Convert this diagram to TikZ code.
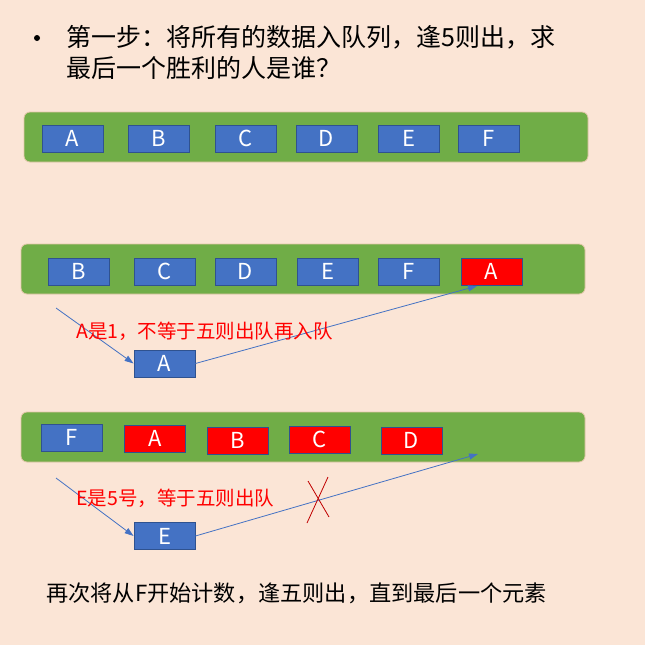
\documentclass[tikz,border=0pt]{standalone}
\usepackage{fontspec}
\setmainfont{Noto Sans CJK SC}
\usetikzlibrary{arrows.meta}
\definecolor{bgc}{HTML}{FBE5D6}
\definecolor{grn}{HTML}{70AD47}
\definecolor{grnb}{HTML}{E2C6A8}
\definecolor{blu}{HTML}{4472C4}
\definecolor{blub}{HTML}{2F528F}
\definecolor{xred}{HTML}{C00000}
\begin{document}
\begin{tikzpicture}[x=1pt,y=-1pt,
  bar/.style={fill=grn,draw=grnb,line width=0.8pt,rounded corners=6pt},
  qbox/.style={fill=blu,draw=blub,line width=0.8pt,minimum width=61pt,minimum height=27pt,inner sep=0pt,text=white,font=\fontsize{22}{22}\selectfont},
  rbox/.style={qbox,fill=red},
  arr/.style={draw=blu,line width=0.8pt,-{Triangle[length=9pt,width=6pt]}},
  lbl/.style={text=red,font=\fontsize{19.5}{20}\selectfont,inner sep=0pt,anchor=west},
  ttl/.style={font=\fontsize{25}{26}\selectfont,inner sep=0pt,anchor=west}]
\fill[bgc] (0,0) rectangle (645,645);
\useasboundingbox (0,0) rectangle (645,645);
% title
\fill (37,38) circle (3pt);
\node[ttl] (t1) at (66,37) {第一步：将所有的数据入队列，逢5则出，求};
\node[ttl] (t2) at (66,68) {最后一个胜利的人是谁？};
% row 1
\draw[bar] (24,112) rectangle (588,162);
\node[qbox] (a1) at (72.5,138.5) {A};
\node[qbox] (b1) at (158.5,138.5) {B};
\node[qbox] (c1) at (245.5,138.5) {C};
\node[qbox] (d1) at (326.5,138.5) {D};
\node[qbox] (e1) at (408.5,138.5) {E};
\node[qbox] (f1) at (488.5,138.5) {F};
% row 2
\draw[bar] (21,244) rectangle (585,294);
\node[qbox] (b2) at (78.5,271.5) {B};
\node[qbox] (c2) at (164.5,271.5) {C};
\node[qbox] (d2) at (245.5,271.5) {D};
\node[qbox] (e2) at (327.5,271.5) {E};
\node[qbox] (f2) at (408.5,271.5) {F};
\node[rbox] (a2) at (491.5,271.5) {A};
\node[qbox] (am) at (164.5,363.5) {A};
\coordinate (s1) at (56,308);
\coordinate (e1p) at (477,286);
\draw[arr] (s1) -- (am.west);
\draw[arr] (am.east) -- (e1p);
\node[lbl] (l1) at (76,331) {A是1，不等于五则出队再入队};
% row 3
\draw[bar] (21,412) rectangle (585,462);
\node[qbox] (f3) at (71.5,437.5) {F};
\node[rbox] (a3) at (155,438.5) {A};
\node[rbox] (b3) at (237.5,440.5) {B};
\node[rbox] (c3) at (320,439.5) {C};
\node[rbox] (d3) at (411.5,440.5) {D};
\node[qbox] (em) at (164.5,536) {E};
\coordinate (s2) at (56,478);
\coordinate (e2p) at (478,454);
\draw[arr] (s2) -- (em.west);
\draw[arr] (em.east) -- (e2p);
\node[lbl] (l2) at (76,498) {E是5号，等于五则出队};
\draw[xred,line width=0.8pt] (328,477) -- (307,523);
\draw[xred,line width=0.8pt] (308,481) -- (329,517);
% bottom
\node[inner sep=0pt,anchor=west,font=\fontsize{22.2}{22}\selectfont] (bt) at (46,593) {再次将从F开始计数，逢五则出，直到最后一个元素};
\end{tikzpicture}
\end{document}
